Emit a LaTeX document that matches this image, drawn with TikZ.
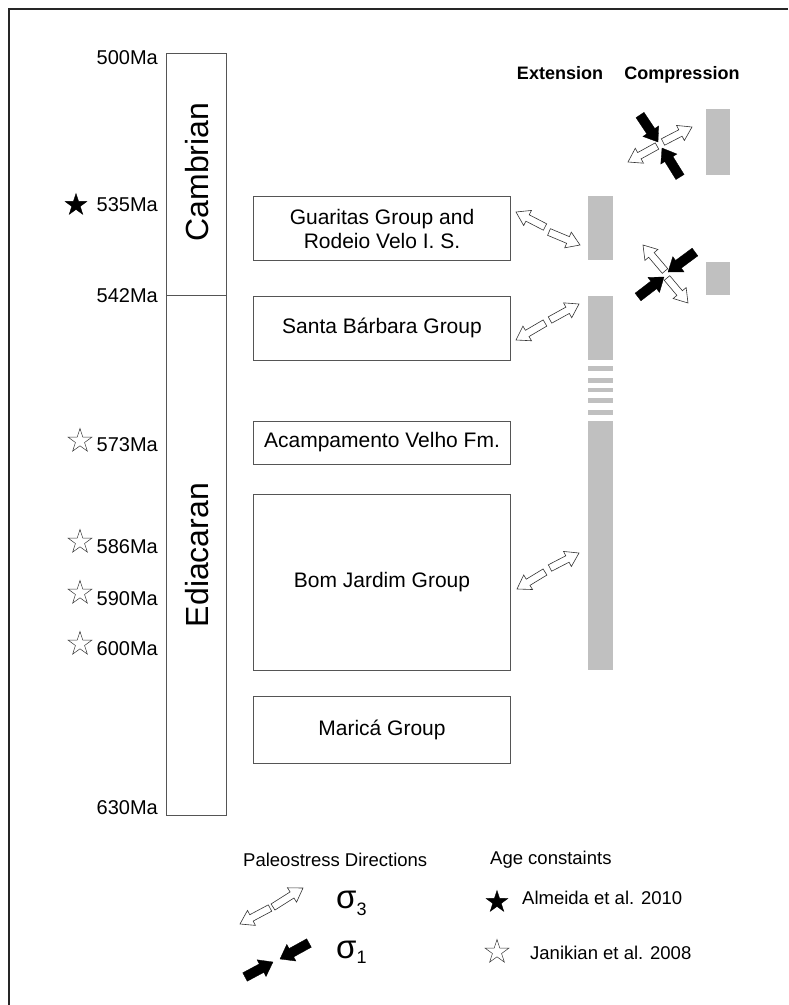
\documentclass[tikz,border=0pt]{standalone}
\usepackage{fontspec}
\setmainfont{Liberation Sans}
\usetikzlibrary{shapes.geometric}
\definecolor{bargray}{HTML}{C0C0C0}
\definecolor{linegray}{HTML}{555555}
\newcommand\fs[1]{\fontsize{#1}{#1}\selectfont}
\tikzset{
  frameline/.style={draw=black!85, line width=2.6pt},
  colbox/.style={draw=linegray, line width=0.9pt},
  unitbox/.style={draw=linegray, line width=0.9pt, minimum width=257pt, align=center, inner sep=0pt, font=\fs{21}},
  agelabel/.style={anchor=base east, font=\fs{20}, inner sep=0pt},
  periodlabel/.style={rotate=90, font=\fs{32}, inner sep=0pt},
  header/.style={anchor=base, font=\bfseries\fs{18}, inner sep=0pt},
  legendtext/.style={anchor=west, font=\fs{18.5}, inner sep=0pt},
  sigmatext/.style={anchor=base west, font=\fs{33}, inner sep=0pt},
  bar/.style={fill=bargray, draw=none},
  openarr/.style={draw=black!80, fill=white, line width=0.6pt, line join=miter},
  fullarr/.style={draw=black, fill=black, line width=0.3pt},
  fullstar/.style={star, star points=5, star point ratio=2.6, fill=black, draw=black, minimum size=23pt, inner sep=0pt},
  openstar/.style={star, star points=5, star point ratio=2.6, fill=white, draw=black!80, line width=0.5pt, minimum size=25pt, inner sep=0pt}
}
% style, x1, y1 (tail), x2, y2 (tip), shaft half width, head half width, head length
\newcommand\stressarr[8]{%
  \pgfmathsetmacro\arrang{atan2(#5-#3,#4-#2)}%
  \pgfmathsetmacro\arrlen{veclen(#4-#2,#5-#3)}%
  \begin{scope}[shift={(#2,#3)},rotate=\arrang]
    \draw[#1] (0,-#6) -- (\arrlen-#8,-#6) -- (\arrlen-#8,-#7) -- (\arrlen,0)
      -- (\arrlen-#8,#7) -- (\arrlen-#8,#6) -- (0,#6) -- cycle;
  \end{scope}}
\newcommand\openA[4]{\stressarr{openarr}{#1}{#2}{#3}{#4}{3.6}{8.5}{13}}
\newcommand\fullA[4]{\stressarr{fullarr}{#1}{#2}{#3}{#4}{4.8}{9.5}{13}}
\begin{document}
\begin{tikzpicture}[x=1pt,y=1pt]
\useasboundingbox (0,0) rectangle (788,-1005);
% frame
\draw[frameline] (788,-9) -- (9,-9) -- (9,-1005);
% time column
\draw[colbox] (166,-53) rectangle (226,-815);
\draw[colbox] (166,-295) -- (226,-295);
\node[periodlabel] (camb) at (197,-172) {Cambrian};
\node[periodlabel] (edia) at (197,-555) {Ediacaran};
% age labels
\node[agelabel] (a500) at (158,-64) {500Ma};
\node[agelabel] (a535) at (158,-211) {535Ma};
\node[agelabel] (a542) at (158,-302) {542Ma};
\node[agelabel] (a573) at (158,-451) {573Ma};
\node[agelabel] (a586) at (158,-553) {586Ma};
\node[agelabel] (a590) at (158,-605) {590Ma};
\node[agelabel] (a600) at (158,-655) {600Ma};
\node[agelabel] (a630) at (158,-814) {630Ma};
% stars
\node[fullstar] (s535) at (76,-205) {};
\node[openstar] (s573) at (80,-441) {};
\node[openstar] (s586) at (80,-542) {};
\node[openstar] (s590) at (80,-593) {};
\node[openstar] (s600) at (80,-644) {};
% unit boxes
\node[unitbox, minimum height=64pt] (guar) at (382,-228.5) {Guaritas Group and\\[3pt]Rodeio Velo I. S.};
\node[unitbox, minimum height=64pt] (santa) at (382,-328) {Santa B\'arbara Group};
\node[unitbox, minimum height=43pt] (acamp) at (382,-442.5) {Acampamento Velho Fm.};
\node[unitbox, minimum height=176pt] (bom) at (382,-582) {Bom Jardim Group};
\node[unitbox, minimum height=67pt] (mar) at (382,-729.5) {Maric\'a Group};
% headers
\node[header] (ext) at (560,-79.5) {Extension};
\node[header] (comp) at (682,-79.5) {Compression};
% extension bars
\fill[bar] (588,-196) rectangle (613,-260);
\fill[bar] (588,-296) rectangle (613,-360);
\fill[bar] (588,-366) rectangle (613,-371);
\fill[bar] (588,-378) rectangle (613,-383);
\fill[bar] (588,-388) rectangle (613,-392);
\fill[bar] (588,-398) rectangle (613,-403);
\fill[bar] (588,-410) rectangle (613,-415);
\fill[bar] (588,-421) rectangle (613,-670);
% compression bars
\fill[bar] (706,-109) rectangle (730,-175);
\fill[bar] (706,-262) rectangle (730,-295);
% extension arrows
\openA{545}{-227}{516}{-212}
\openA{549}{-232}{580}{-245}
\openA{545}{-323}{516}{-340}
\openA{550}{-320}{579}{-304}
\openA{545}{-572}{517}{-589}
\openA{550}{-568}{579}{-553}
% compression arrows, upper
\openA{657}{-146}{628}{-162}
\openA{663}{-142}{692}{-127}
\fullA{640}{-115}{658}{-142}
\fullA{680}{-177}{662}{-148}
% compression arrows, middle
\openA{665}{-271}{643}{-245}
\openA{667}{-278}{688}{-303}
\fullA{695}{-252}{668}{-272}
\fullA{638}{-297}{664}{-277}
% legend
\node[legendtext] (pd) at (243,-860) {Paleostress Directions};
\node[legendtext] (ac) at (490,-860) {Age constaints};
\openA{270}{-908}{240}{-924}
\openA{273}{-907}{303}{-888}
\fullA{245}{-977}{273}{-962}
\fullA{309}{-943}{280}{-959}
\node[sigmatext] (sig3) at (336,-908.5) {σ\raisebox{-6.5pt}{\fs{18}3}};
\node[sigmatext] (sig1) at (336,-958.5) {σ\raisebox{-5pt}{\fs{18}1}};
\node[fullstar] (ls1) at (497,-902) {};
\node[openstar] (ls2) at (497,-952) {};
\node[legendtext] (alm) at (522,-898) {Almeida et al. 2010};
\node[legendtext] (jan) at (530,-953) {Janikian et al. 2008};
\end{tikzpicture}
\end{document}
